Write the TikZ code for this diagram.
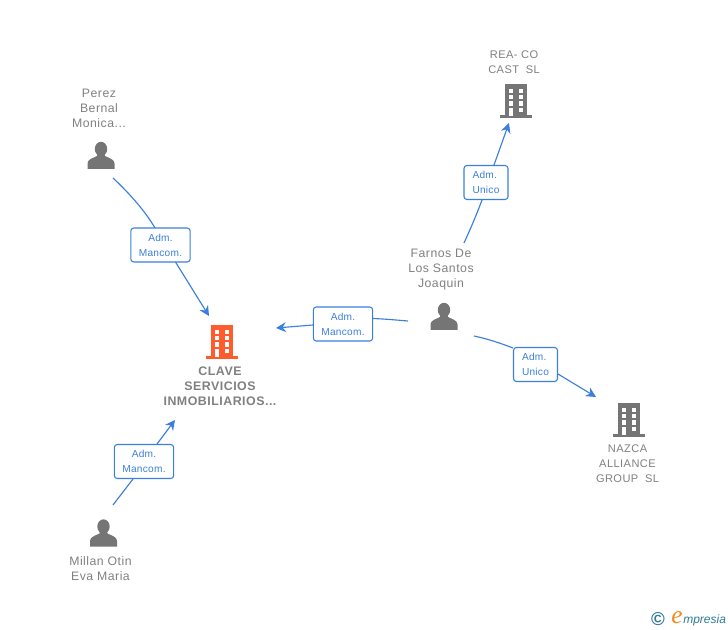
\documentclass[tikz,border=0pt]{standalone}
\usepackage{fontspec}
\setmainfont{Liberation Sans}
\usetikzlibrary{arrows.meta}
\definecolor{edge}{HTML}{3B7FDC}
\definecolor{ink}{HTML}{808080}
\definecolor{icon}{HTML}{757575}
\definecolor{hot}{HTML}{FF5C2E}
\definecolor{logoteal}{HTML}{2F7A96}
\definecolor{logoorange}{HTML}{F08A1E}
\newfontfamily\lblfont[LetterSpace=2.5]{Liberation Sans}
\newfontfamily\namefont[LetterSpace=4]{Liberation Sans}
\newfontfamily\eefont{Liberation Serif}
\tikzset{
  x=0.75pt,y=-0.75pt,
  conn/.style={draw=edge,line width=0.85pt},
  arr/.style={conn,-{Stealth[length=7.5pt,width=7.5pt,inset=2.5pt]}},
  lab/.style={draw=edge,line width=0.8pt,rounded corners=2.2pt,fill=white,text=edge,
    font=\fontsize{7.6}{11.25}\selectfont\lblfont,inner sep=0pt,
    minimum height=25.5pt},
  widelab/.style={lab,align=center,minimum width=44.5pt},
  narrowlab/.style={lab,align=left,minimum width=33pt},
  nametxt/.style={text=ink,font=\fontsize{9.2}{11.25}\selectfont\namefont,align=center,inner sep=0pt},
  captxt/.style={nametxt,font=\fontsize{8.3}{11.25}\selectfont\namefont},
  boldtxt/.style={nametxt,font=\fontsize{9.3}{11.25}\selectfont\bfseries\namefont},
  pics/person/.style={code={
    \fill[icon] (0,-6.5) circle[x radius=6.2,y radius=7.2] ;
    \fill[icon] (-13.5,13.5) -- (-13.5,8) .. controls (-13.5,4) and (-9,3) .. (-4,0.5)
      -- (-3.5,-4) -- (3.5,-4) -- (4,0.5) .. controls (9,3) and (13.5,4) .. (13.5,8) -- (13.5,13.5) -- cycle;
  }},
  pics/building/.style={code={
    \fill[#1] (-11,-17) rectangle (11,15);
    \fill[#1] (-16,14.5) rectangle (16,17);
    \foreach \wy in {-11.7,-5.7,0.5}{
      \fill[white] (-7.3,\wy) rectangle (-2.7,\wy+4.2);
      \fill[white] (2.5,\wy) rectangle (7.1,\wy+4.2);
    }
    \fill[white] (-7.3,7) rectangle (-2.7,15);
    \fill[white] (2.5,7) rectangle (7.1,11.5);
  }},
}
\begin{document}
\begin{tikzpicture}
\useasboundingbox (0,0) rectangle (728,630);
% icons
\pic at (101,155.5) {person};
\pic at (444,316.5) {person};
\pic at (103.5,533) {person};
\pic at (222,342) {building=hot};
\pic at (516,101) {building=icon};
\pic at (629,420) {building=icon};
% names
\node[nametxt] (perez) at (99,108) {Perez\\Bernal\\Monica...};
\node[boldtxt] (clave) at (220,386) {CLAVE\\SERVICIOS\\INMOBILIARIOS...};
\node[captxt] (rea) at (514,62.5) {REA- CO\\CAST\hspace{5pt}SL};
\node[nametxt] (farnos) at (441,270) {Farnos De\\Los Santos\\Joaquin};
\node[captxt] (nazca) at (627.5,464) {NAZCA\\ALLIANCE\\GROUP\hspace{5pt}SL};
\node[nametxt] (millan) at (100.5,568.5) {Millan Otin\\Eva Maria};
% labels
\node[widelab] (l1) at (160.5,245) {Adm.\hspace{2pt}\\Mancom.};
\node[widelab] (l2) at (343,324) {Adm.\hspace{2pt}\\Mancom.};
\node[widelab] (l3) at (144,461.5) {Adm.\hspace{2pt}\\Mancom.};
\node[narrowlab] (l4) at (486,182.5) {Adm.\\Unico};
\node[narrowlab] (l5) at (535.5,364.5) {Adm.\\Unico};
% connector end points
\coordinate (p1s) at (113,178);
\coordinate (l1t) at (155,228);
\coordinate (l1b) at (175.5,262);
\coordinate (p1e) at (209,316);
\coordinate (p2s) at (408,321);
\coordinate (l2r) at (373,318.5);
\coordinate (l2l) at (313,325);
\coordinate (p2e) at (276,328);
\coordinate (p3s) at (113,505);
\coordinate (l3b) at (133,479);
\coordinate (l3t) at (157,444);
\coordinate (p3e) at (175,420);
\coordinate (p4s) at (464,243);
\coordinate (l4b) at (482,200);
\coordinate (l4t) at (494,165);
\coordinate (p4e) at (509,123);
\coordinate (p5s) at (474,336);
\coordinate (l5l) at (513,348);
\coordinate (l5r) at (558,374);
\coordinate (p5e) at (596,397);
% connectors
\draw[conn] (p1s) .. controls (130,194) and (145,211) .. (l1t);
\draw[arr] (l1b) -- (p1e);
\draw[conn] (p2s) .. controls (396,320) and (385,319) .. (l2r);
\draw[arr] (l2l) -- (p2e);
\draw[conn] (p3s) -- (l3b);
\draw[arr] (l3t) -- (p3e);
\draw[conn] (p4s) .. controls (470,230) and (476,216) .. (l4b);
\draw[arr] (l4t) -- (p4e);
\draw[conn] (p5s) .. controls (488,339) and (500,343) .. (l5l);
\draw[arr] (l5r) -- (p5e);
% logo
\node[inner sep=0pt,text=logoteal,font=\fontsize{14}{14}\selectfont\bfseries] (copy) at (658,619) {©};
\node[inner sep=0pt,text=logoorange,font=\fontsize{19}{19}\selectfont\eefont\itshape] (elogo) at (677,617.5) {e};
\node[inner sep=0pt,text=logoteal,font=\fontsize{9}{10}\selectfont\itshape,anchor=west] (mpresia) at (683,620) {mpresia};
\end{tikzpicture}
\end{document}
